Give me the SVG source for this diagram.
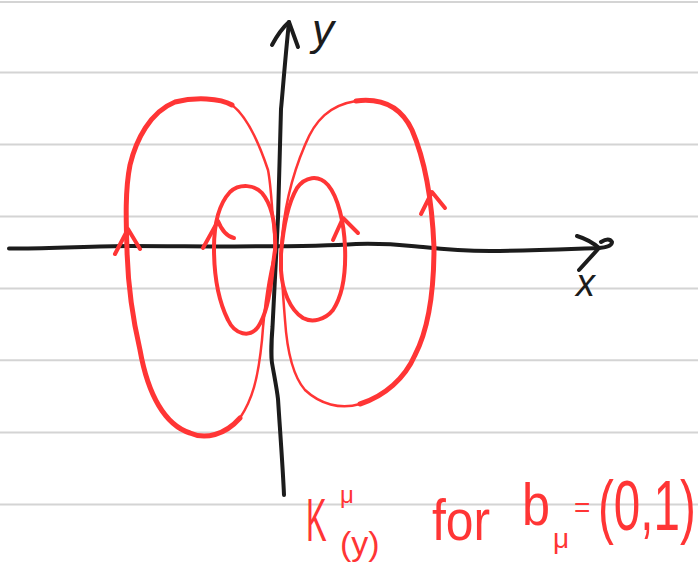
<svg xmlns="http://www.w3.org/2000/svg" width="698" height="569" viewBox="0 0 698 569">
<style>
.rule{stroke:#d4d4d4;stroke-width:2;fill:none}
.ax{stroke:#1c1c1c;stroke-width:4;fill:none;stroke-linecap:round;stroke-linejoin:round}
.rd{stroke:#ff3535;fill:none;stroke-linecap:round;stroke-linejoin:round}
.thick{stroke-width:5}
.mid{stroke-width:4}
.thin{stroke-width:2.5}
.lbk{font-family:"Liberation Sans",Arial,sans-serif;fill:#1c1c1c}
.lrd{font-family:"Liberation Sans",Arial,sans-serif;fill:#ff3535}
</style>
<rect width="698" height="569" fill="#ffffff"/>
<g id="ruled-lines">
<line class="rule" x1="0" y1="2" x2="698" y2="2"/>
<line class="rule" x1="0" y1="72.6" x2="698" y2="72.6"/>
<line class="rule" x1="0" y1="144.4" x2="698" y2="144.4"/>
<line class="rule" x1="0" y1="216.6" x2="698" y2="216.6"/>
<line class="rule" x1="0" y1="288.5" x2="698" y2="288.5"/>
<line class="rule" x1="0" y1="360.3" x2="698" y2="360.3"/>
<line class="rule" x1="0" y1="432.5" x2="698" y2="432.5"/>
<line class="rule" x1="0" y1="504.4" x2="698" y2="504.4"/>
</g>
<g id="axes">
<path class="ax" d="M9,248.5 C50,249 90,246 130,246 C200,246 300,248 356,244 C390,243 410,246 423,247 C450,250 470,251 490,251 C530,251 570,249 599,248"/>
<path class="ax" d="M577,236 Q590,240 599,248 L579,270 M599,248 Q612,247 612,242 Q609,237 601,242"/>
<path class="ax" d="M289,22 C285,60 282,100 281,109 C280,150 279,190 278,218 C276,260 274,300 272.5,327 C271,345 271.5,360 272,363 C275,380 277,390 278,399 C280,430 283,470 284,495"/>
<path class="ax" d="M272,45 Q280,30 289,22 L298,47"/>
<text id="label-y" class="lbk" x="312" y="45" font-size="44" font-style="italic">y</text>
<text id="label-x" class="lbk" x="576" y="296" font-size="38" font-style="italic">x</text>
</g>
<g id="outer-left-loop">
<path class="rd thick" d="M232,105 C220,98 195,97 175,102 C150,112 136,140 130,165 C125,190 126,220 127,250 C128,290 133,320 140,350 C148,395 165,425 190,433 C205,440 225,435 240,418"/>
<path class="rd thin" d="M240,418 C252,400 258,380 262,340 C265,300 270,270 276,250 C272,220 272,190 268,170 C258,140 245,115 232,105"/>
<path class="rd mid" d="M115,254 L128,229 L140,249"/>
</g>
<g id="outer-right-loop">
<path class="rd thick" d="M356,101 C380,98 400,105 412,130 C425,160 432,200 434,247 C434,290 428,330 415,355 C405,378 385,396 360,404"/>
<path class="rd thin" d="M360,404 C340,410 320,404 305,390 C292,375 287,350 285,320 C283,295 281,270 281,250 C283,215 290,180 305,145 C315,120 330,105 356,101"/>
<path class="rd mid" d="M421,214 L432,192 L445,208"/>
</g>
<g id="inner-left-loop">
<path class="rd mid" d="M275,250 C276,225 272,205 262,193 C255,185 240,183 230,192 C218,205 214,225 214,248 C214,275 218,300 228,320 C235,335 250,338 258,327 C266,315 270,295 272,275 C273,265 274,256 275,250 Z"/>
<path class="rd mid" d="M203,248 L218,221 Q224,236 234,238"/>
</g>
<g id="inner-right-loop">
<path class="rd mid" d="M281,254 C283,230 287,205 297,188 C305,177 318,174 328,185 C338,197 344,222 345,247 C346,272 343,295 333,310 C325,320 312,323 303,318 C290,310 282,290 281,270 Z"/>
<path class="rd mid" d="M333,240 L343,218 L358,233"/>
</g>
<g id="caption">
<text class="lrd" transform="translate(306,541) scale(0.5,1)" font-size="62">K</text>
<text class="lrd" x="340" y="503" font-size="24">μ</text>
<text class="lrd" x="340" y="555" font-size="34">(y)</text>
<text class="lrd" transform="translate(432,540) scale(0.86,1)" font-size="58">for</text>
<text class="lrd" transform="translate(522,525) scale(0.84,1)" font-size="60">b</text>
<text class="lrd" x="553" y="548" font-size="28">μ</text>
<text class="lrd" x="574" y="517" font-size="28">=</text>
<text class="lrd" transform="translate(598,530) scale(0.68,1)" font-size="70">(0,1)</text>
</g>
</svg>
